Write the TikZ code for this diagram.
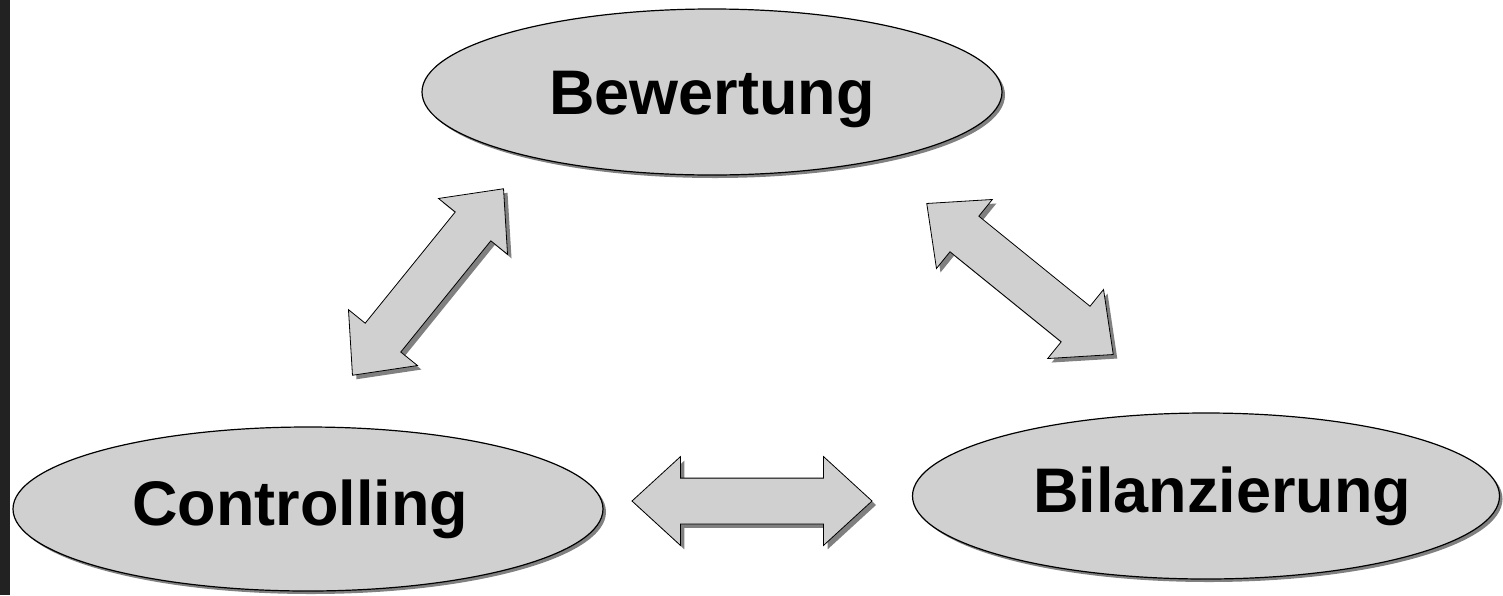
\documentclass[tikz,border=0pt]{standalone}
\usepackage{fontspec}
\setmainfont{Liberation Sans}
\usetikzlibrary{shapes.geometric,shapes.arrows,shadows}
\definecolor{lightfill}{RGB}{208,208,208}
\definecolor{darkshade}{RGB}{128,128,128}
\definecolor{sidebar}{RGB}{34,34,34}

\begin{document}
\begin{tikzpicture}[x=1pt,y=-1pt,
    oval/.style={draw,ellipse,fill=lightfill,line width=1.2pt,inner sep=0pt,
      minimum width=587pt,minimum height=166pt,
      font=\fontsize{63}{70}\selectfont\bfseries,
      drop shadow={shadow xshift=3pt,shadow yshift=-3pt,fill=darkshade,opacity=1}},
    dblarrow/.style={draw,double arrow,fill=lightfill,line width=0.8pt,
      inner xsep=0pt,inner ysep=22.5pt,
      minimum height=240pt,minimum width=88pt,
      double arrow head extend=21.5pt,double arrow tip angle=85,
      drop shadow={shadow xshift=4pt,shadow yshift=-4pt,fill=darkshade,opacity=1}}]
  \useasboundingbox (0,0) rectangle (1503,595);
  \fill[white] (0,0) rectangle (1503,595);
  \fill[sidebar] (0,0) rectangle (10,595);
  \node[oval,minimum width=580pt,text height=59pt] (E-1) at (712,92) {Bewertung};
  \node[oval,minimum width=590pt,minimum height=164pt] (E-2) at (308,509) {Controlling\hspace*{16pt}};
  \node[oval] (E-3) at (1206,496) {\hspace*{32pt}Bilanzierung};
  \node[dblarrow,rotate=51] (P-1) at (428,282) {};
  \node[dblarrow,rotate=-39] (P-2) at (1020,279) {};
  \node[dblarrow] (P-3) at (752,501) {};
\end{tikzpicture}
\end{document}
